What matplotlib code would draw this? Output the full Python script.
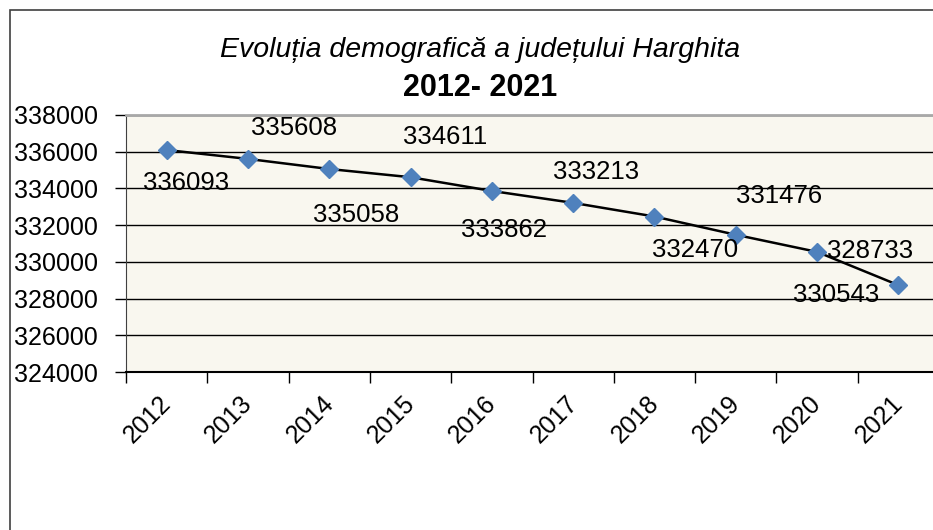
import matplotlib.pyplot as plt
import matplotlib.transforms as mtransforms
from matplotlib.patches import Rectangle

plt.rcParams['font.family'] = ['Liberation Sans', 'DejaVu Sans']

ani = ['2012', '2013', '2014', '2015', '2016', '2017', '2018', '2019', '2020', '2021']
populatie = [336093, 335608, 335058, 334611, 333862, 333213, 332470, 331476, 330543, 328733]
# unde stau etichetele fata de puncte (pixeli), ca in original
deplasari = [(19, -33), (46, 31), (27, -46), (35, 40), (12, -39),
             (23, 31), (41, -33), (43, 39), (19, -43), (-28, 34)]

fig = plt.figure(figsize=(9.33, 5.30), dpi=100)
fig.patch.set_facecolor('white')

# chenarul diagramei (iese din imagine in dreapta si jos)
fig.add_artist(Rectangle((10 / 933, -0.1), 1.2, 1.1 - 10 / 530, transform=fig.transFigure,
                         fill=False, edgecolor='#404040', lw=1.2))

ax = fig.add_axes([126 / 933, 1 - 372 / 530, 813 / 933, 257 / 530])
ax.set_facecolor('#F9F7EF')

x = list(range(len(ani)))
ax.plot(x, populatie, color='black', lw=1.8, marker='D', ms=9,
        markerfacecolor='#4F81BD', markeredgecolor='#4F81BD', zorder=3)

for xi, v, (dx, dy) in zip(x, populatie, deplasari):
    ax.annotate(str(v), (xi, v), xytext=(dx, dy), textcoords='offset pixels',
                ha='center', va='center', fontsize=18.5, zorder=4)

ax.set_ylim(324000, 338000)
ax.set_yticks(range(324000, 338001, 2000))
ax.set_xlim(-0.5, len(ani) - 0.5)
ax.set_xticks([i - 0.5 for i in range(len(ani) + 1)], minor=False)
ax.set_xticklabels([])
ax.set_xticks(x, minor=True)
ax.set_xticklabels(ani, minor=True, rotation=45, ha='right', va='top', rotation_mode='anchor')
ax.tick_params(axis='x', which='minor', length=0, labelsize=18, pad=13.5)
ax.tick_params(axis='x', which='major', length=8, width=1, direction='out')
ax.tick_params(axis='y', length=8, width=1, direction='out', labelsize=18, pad=12)

dx = mtransforms.ScaledTranslation(-8 / 100, 0, fig.dpi_scale_trans)
for lbl in ax.get_xticklabels(minor=True):
    lbl.set_transform(lbl.get_transform() + dx)

ax.yaxis.grid(True, color='black', lw=1)
ax.set_axisbelow(True)
for s in ['top', 'right']:
    ax.spines[s].set_color('#A8A8A8')
    ax.spines[s].set_linewidth(2)
ax.spines['left'].set_color('#404040')
ax.spines['bottom'].set_color('black')
ax.spines['bottom'].set_linewidth(1.5)

fig.text(480 / 933, 1 - 50 / 530, 'Evoluția demografică a județului Harghita',
         ha='center', va='center', fontsize=20.5, style='italic')
fig.text(480 / 933, 1 - 88 / 530, '2012- 2021', ha='center', va='center',
         fontsize=22, fontweight='bold')

fig.savefig('out.png', dpi=100)
